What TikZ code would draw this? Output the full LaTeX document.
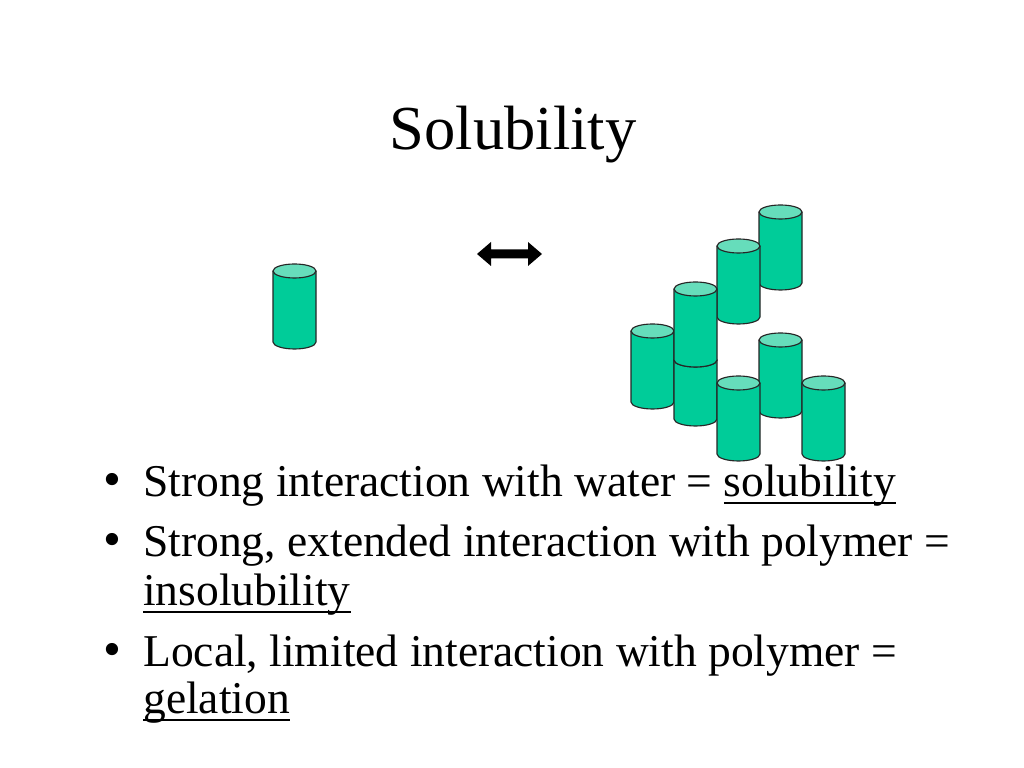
\documentclass[tikz,border=0pt]{standalone}
\usepackage{fontspec}
\setmainfont{Liberation Serif}
\definecolor{cylbody}{RGB}{0,204,153}
\definecolor{cyltop}{RGB}{102,221,187}
\newcommand\myul[1]{\setbox0\hbox{#1}\rlap{\rule[-5pt]{\wd0}{1.5pt}}\box0}
\newcommand\cyl[3]{%
  \fill[cylbody] (#1,{768-#2}) -- (#1,{768-#3}) arc[start angle=180,end angle=360,x radius=15.117pt,y radius=4.922pt] -- ({#1+43},{768-#2}) -- cycle;
  \draw[cylline] (#1,{768-#2}) -- (#1,{768-#3}) arc[start angle=180,end angle=360,x radius=15.117pt,y radius=4.922pt] -- ({#1+43},{768-#2});
  \draw[cylline,fill=cyltop] ({#1+21.5},{768-#2}) ellipse[x radius=15.117pt,y radius=4.922pt];
}
\tikzset{
  cylline/.style={draw=black!85, line width=0.8pt},
  titletext/.style={font=\fontsize{44pt}{52pt}\selectfont, inner sep=0pt, anchor=base},
  bodytext/.style={font=\fontsize{32pt}{38pt}\selectfont, inner sep=0pt, anchor=base west},
  bullettext/.style={font=\fontsize{36pt}{40pt}\selectfont, inner sep=0pt, anchor=base},
}
\begin{document}
\begin{tikzpicture}[x=0.703125pt,y=0.703125pt]
\useasboundingbox[fill=white] (0,0) rectangle (1024,768);
% title
\node[titletext] (title) at (513,{768-150}) {Solubility};
% single cylinder
\cyl{273}{271}{342}
% arrow
\fill[black] (477,{768-254}) -- (491,{768-242}) -- (491,{768-249.5}) -- (528,{768-249.5}) -- (528,{768-242}) -- (542,{768-254}) -- (528,{768-266}) -- (528,{768-258.5}) -- (491,{768-258.5}) -- (491,{768-266}) -- cycle;
% cluster
\cyl{759}{212}{283}
\cyl{717}{246}{317}
\cyl{631}{331}{402}
\cyl{674}{360}{419}
\cyl{674}{289}{360}
\cyl{759}{340}{411}
\cyl{717}{383}{454}
\cyl{802}{383}{454}
% bullets
\node[bullettext] (b1) at (112,{768-497}) {•};
\node[bodytext] (t1) at (143,{768-497}) {Strong interaction with water = \myul{solubility}};
\node[bullettext] (b2) at (112,{768-557}) {•};
\node[bodytext] (t2) at (143,{768-557}) {Strong, extended interaction with polymer =};
\node[bodytext] (t3) at (143,{768-606}) {\myul{insolubility}};
\node[bullettext] (b3) at (112,{768-667}) {•};
\node[bodytext] (t4) at (143,{768-667}) {Local, limited interaction with polymer =};
\node[bodytext] (t5) at (143,{768-714}) {\myul{gelation}};
\end{tikzpicture}
\end{document}
